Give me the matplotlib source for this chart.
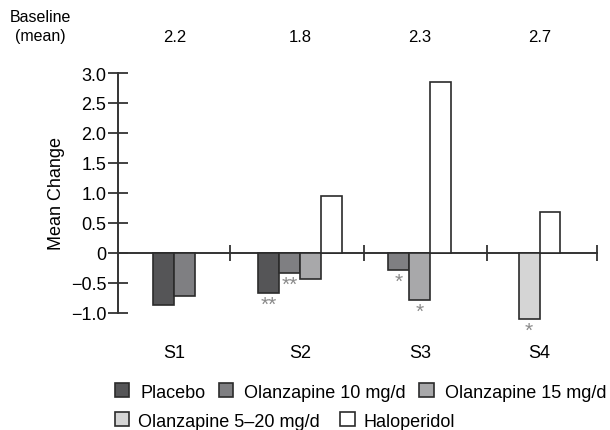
import numpy as np
import matplotlib.pyplot as plt
import matplotlib.transforms as mtransforms

plt.rcParams['font.family'] = ['Liberation Sans', 'DejaVu Sans']
plt.rcParams['font.size'] = 13

# === data ===
groups = ["S1", "S2", "S3", "S4"]
baseline = ["2.2", "1.8", "2.3", "2.7"]
series = ["Placebo", "Olanzapine 10 mg/d", "Olanzapine 15 mg/d",
          "Olanzapine 5–20 mg/d", "Haloperidol"]
placebo = [-0.86, -0.67, np.nan, np.nan]
olz10 = [-0.72, -0.34, -0.29, np.nan]
olz15 = [np.nan, -0.43, -0.79, np.nan]
olz520 = [np.nan, np.nan, np.nan, -1.10]
halo = [np.nan, 0.95, 2.85, 0.68]
# (series index, group index) -> significance mark
stars = {(0, 1): "**", (1, 1): "**", (1, 2): "*", (2, 2): "*", (3, 3): "*"}

values = [placebo, olz10, olz15, olz520, halo]
colors = ["#555557", "#7f7f82", "#a8a8aa", "#d5d5d5", "white"]
edge = "#2b2b2b"

# === layout ===
group_x = [0.47, 1.52, 2.52, 3.52]
dividers = [0.935, 2.054, 3.081, 4.0]
width = 0.175

fig = plt.figure(figsize=(6.1, 4.31), dpi=100)
ax = fig.add_axes([118 / 610, 117 / 431, 479 / 610, 240 / 431])

# bars packed together inside each group
pos = [[np.nan] * len(groups) for _ in series]
for g in range(len(groups)):
    present = [s for s in range(len(series)) if not np.isnan(values[s][g])]
    n = len(present)
    for k, s in enumerate(present):
        pos[s][g] = group_x[g] + (k - (n - 1) / 2) * width

handles = []
for s, name in enumerate(series):
    xs = [pos[s][g] for g in range(len(groups)) if not np.isnan(values[s][g])]
    ys = [values[s][g] for g in range(len(groups)) if not np.isnan(values[s][g])]
    b = ax.bar(xs, ys, width=width, color=colors[s], edgecolor=edge,
               linewidth=1.2, label=name, clip_on=False, zorder=3)
    handles.append(b)

for (s, g), mark in stars.items():
    ax.annotate(mark, (pos[s][g], values[s][g]), xytext=(0, -1),
                textcoords="offset points", ha="center", va="top",
                fontsize=15, color="#8a8a8a", annotation_clip=False)

# === axes ===
ax.set_xlim(0, 4)
ax.set_ylim(-1.0, 3.0)
ax.set_yticks(np.arange(-1.0, 3.01, 0.5))
ax.set_yticklabels(["\u22121.0", "\u22120.5", "0", "0.5", "1.0", "1.5",
                    "2.0", "2.5", "3.0"])
ax.set_xticks(dividers)
ax.set_xticklabels([])
ax.tick_params(axis="y", direction="inout", length=15, width=1.3,
               color="#333333", pad=1)
ax.tick_params(axis="x", direction="inout", length=11, width=1.3,
               color="#333333")
ax.spines['top'].set_visible(False)
ax.spines['right'].set_visible(False)
ax.spines['bottom'].set_position(('data', 0))
for sp in ['left', 'bottom']:
    ax.spines[sp].set_color("#333333")
    ax.spines[sp].set_linewidth(1.4)
ax.set_ylabel("Mean Change")
ax.yaxis.set_label_coords(-53 / 479, 0.5)

# group labels and baseline row
trans = mtransforms.blended_transform_factory(ax.transData, fig.transFigure)
for g, name in enumerate(groups):
    ax.text(group_x[g], 1 - 353 / 431, name, transform=trans,
            ha="center", va="center")
    ax.text(group_x[g], 1 - 38 / 431, baseline[g], transform=trans,
            ha="center", va="center", fontsize=12)
fig.text(40 / 610, 1 - 27 / 431, "Baseline\n(mean)", ha="center",
         va="center", linespacing=1.3, fontsize=11.5)

# legend in two rows
fig.legend(handles[:3], series[:3], loc="center left",
           bbox_to_anchor=(115 / 610, 1 - 393 / 431), ncol=3,
           frameon=False, borderpad=0, borderaxespad=0,
           handlelength=0.8, handleheight=0.8, handletextpad=0.6,
           columnspacing=0.75)
fig.legend(handles[3:], series[3:], loc="center left",
           bbox_to_anchor=(115 / 610, 1 - 422 / 431), ncol=2,
           frameon=False, borderpad=0, borderaxespad=0,
           handlelength=0.8, handleheight=0.8, handletextpad=0.5,
           columnspacing=1.1)

plt.savefig("out.png", dpi=100)
